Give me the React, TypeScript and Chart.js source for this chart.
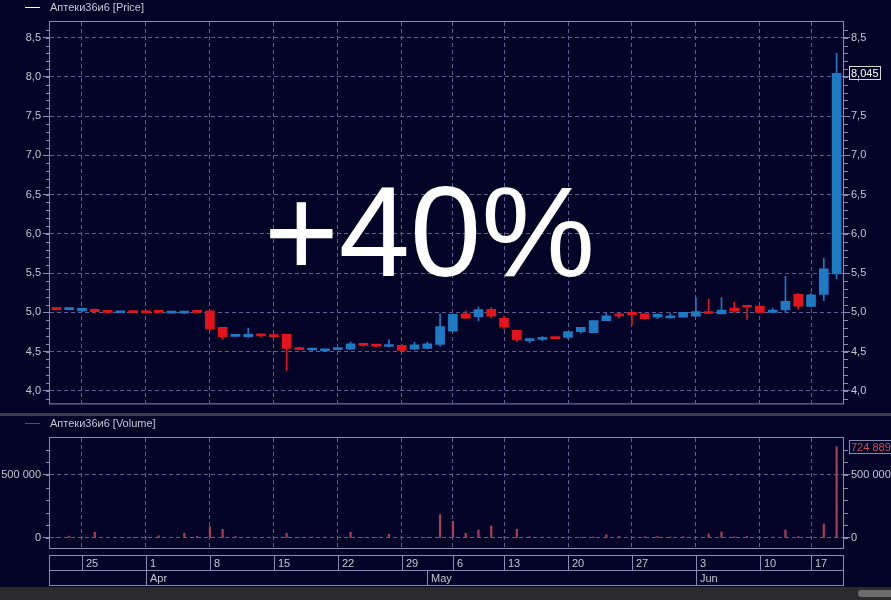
import { useEffect, useRef } from 'react';
import { Chart, registerables } from 'chart.js';

Chart.register(...registerables);

// trading days, Mar 21 – Jun 19
const DATES = [
  '2019-03-21', '2019-03-22', '2019-03-25', '2019-03-26', '2019-03-27', '2019-03-28', '2019-03-29',
  '2019-04-01', '2019-04-02', '2019-04-03', '2019-04-04', '2019-04-05',
  '2019-04-08', '2019-04-09', '2019-04-10', '2019-04-11', '2019-04-12',
  '2019-04-15', '2019-04-16', '2019-04-17', '2019-04-18', '2019-04-19',
  '2019-04-22', '2019-04-23', '2019-04-24', '2019-04-25', '2019-04-26',
  '2019-04-29', '2019-04-30', '2019-05-02', '2019-05-03',
  '2019-05-06', '2019-05-07', '2019-05-08', '2019-05-10',
  '2019-05-13', '2019-05-14', '2019-05-15', '2019-05-16', '2019-05-17',
  '2019-05-20', '2019-05-21', '2019-05-22', '2019-05-23', '2019-05-24',
  '2019-05-27', '2019-05-28', '2019-05-29', '2019-05-30', '2019-05-31',
  '2019-06-03', '2019-06-04', '2019-06-05', '2019-06-06', '2019-06-07',
  '2019-06-10', '2019-06-11', '2019-06-13', '2019-06-14',
  '2019-06-17', '2019-06-18', '2019-06-19',
];

const OPEN = [
  5.04, 5.035, 5.02, 5.04, 5.01, 4.995, 5.0,
  5.0, 5.01, 4.99, 4.99, 5.01,
  5.02, 4.81, 4.695, 4.69, 4.72,
  4.71, 4.72, 4.545, 4.52, 4.51,
  4.525, 4.53, 4.6, 4.585, 4.565,
  4.58, 4.53, 4.54, 4.59,
  4.76, 4.98, 4.945, 5.04,
  4.925, 4.77, 4.64, 4.655, 4.675,
  4.68, 4.755, 4.74, 4.895, 4.96,
  5.0, 4.98, 4.94, 4.93, 4.94,
  4.95, 4.995, 4.98, 5.055, 5.08,
  5.08, 5.0, 5.03, 5.23,
  5.075, 5.23, 5.49,
];
const HIGH = [
  5.045, 5.05, 5.055, 5.045, 5.01, 5.0, 5.0,
  5.005, 5.02, 5.0, 5.0, 5.01,
  5.02, 4.81, 4.7, 4.8, 4.72,
  4.71, 4.72, 4.55, 4.525, 4.53,
  4.535, 4.62, 4.61, 4.59, 4.65,
  4.59, 4.62, 4.62, 4.98,
  4.98, 5.02, 5.07, 5.06,
  4.95, 4.77, 4.67, 4.69, 4.68,
  4.755, 4.81, 4.895, 4.99, 4.99,
  5.01, 4.98, 4.98, 4.99, 5.0,
  5.19, 5.17, 5.19, 5.13, 5.09,
  5.08, 5.055, 5.46, 5.24,
  5.24, 5.69, 8.3,
];
const LOW = [
  5.03, 5.03, 5.01, 5.0, 5.0, 4.995, 4.995,
  4.99, 5.0, 4.985, 4.985, 5.0,
  4.77, 4.66, 4.695, 4.685, 4.69,
  4.69, 4.26, 4.52, 4.515, 4.505,
  4.52, 4.525, 4.565, 4.56, 4.56,
  4.505, 4.525, 4.535, 4.57,
  4.75, 4.92, 4.89, 4.93,
  4.79, 4.63, 4.61, 4.64, 4.665,
  4.665, 4.735, 4.74, 4.895, 4.93,
  4.84, 4.91, 4.92, 4.925, 4.94,
  4.95, 4.985, 4.98, 5.0, 4.91,
  4.995, 5.0, 5.0, 5.04,
  5.065, 5.15, 5.43,
];
const CLOSE = [
  5.035, 5.045, 5.05, 5.01, 5.0, 5.0, 4.998,
  4.995, 5.0, 5.0, 5.0, 5.0,
  4.79, 4.69, 4.7, 4.72, 4.7,
  4.69, 4.54, 4.525, 4.525, 4.525,
  4.53, 4.6, 4.58, 4.57, 4.575,
  4.515, 4.585, 4.6, 4.82,
  4.975, 4.925, 5.035, 4.95,
  4.81, 4.65, 4.65, 4.675, 4.665,
  4.755, 4.81, 4.895, 4.955, 4.955,
  4.97, 4.92, 4.975, 4.945, 5.0,
  5.01, 4.985, 5.03, 5.015, 5.065,
  5.0, 5.03, 5.14, 5.08,
  5.225, 5.555, 8.045,
];
const VOLUME = [
  5000, 15000, 6000, 45000, 5000, 4000, 3000,
  6000, 18000, 5000, 37000, 12000,
  90000, 69000, 12000, 6000, 4000,
  5000, 37000, 5000, 8000, 8000,
  4000, 45000, 4000, 5000, 29000,
  6000, 5000, 6000, 185000,
  132000, 37000, 64000, 95000,
  8000, 69000, 10000, 7000, 5000,
  4000, 6000, 8000, 26000, 12000,
  8000, 10000, 12000, 8000, 10000,
  6000, 32000, 48000, 10000, 12000,
  6000, 8000, 64000, 12000,
  8000, 111000, 724889,
];

const MONTHS = ['Jan', 'Feb', 'Mar', 'Apr', 'May', 'Jun', 'Jul', 'Aug', 'Sep', 'Oct', 'Nov', 'Dec'];

const BG = '#030327';
const UP = '#1f7ac4';
const DOWN = '#e3141b';
const FRAME = '#8a8ab2';
const GRID = '#5e5e92';
const TEXT = '#c6c6d6';
const VOL = '#b03c58';
const FAMILY = '"Liberation Sans", Arial, sans-serif';
const FONT = { family: FAMILY, size: 11 };

const candleColors = OPEN.map((o, i) => (CLOSE[i] >= o ? UP : DOWN));
const mondays = new Set(DATES.map((d, i) => (new Date(d).getUTCDay() === 1 ? i : -1)).filter((i) => i >= 0));
const monthStarts = DATES.map((d, i) => (i > 0 && d.slice(5, 7) !== DATES[i - 1].slice(5, 7) ? i : -1)).filter((i) => i >= 0);

const fmtPrice = (v: number) => (Math.round(v * 10) / 10).toFixed(1).replace('.', ',');
const fmtVol = (v: number) => String(Math.round(v)).replace(/\B(?=(\d{3})+(?!\d))/g, ' ');

const xAxis = {
  type: 'category' as const,
  offset: true,
  afterFit: (s: any) => { s.height = 0; },
  ticks: { display: false, autoSkip: false },
  grid: {
    offset: false,
    drawTicks: false,
    color: (c: any) => (mondays.has(c.index) ? GRID : 'rgba(0,0,0,0)'),
  },
  border: { display: false, dash: [4, 3] },
};

function yAxes(min: number, max: number, step: number, fmt: (v: number) => string) {
  // labelled ticks at whole multiples of step
  const build = (s: any) => {
    const t = [];
    for (let k = Math.ceil(min / step); k * step <= max; k++) t.push({ value: k * step });
    s.ticks = t;
  };
  return {
    y: {
      position: 'left' as const, min, max,
      afterBuildTicks: build,
      afterFit: (s: any) => { s.width = 50; },
      ticks: { color: TEXT, font: FONT, padding: 2, callback: (v: any) => fmt(Number(v)) },
      grid: { color: GRID, tickColor: FRAME, tickLength: 7 },
      border: { display: false, dash: [4, 3] },
    },
    yR: {
      position: 'right' as const, min, max,
      afterBuildTicks: build,
      afterFit: (s: any) => { s.width = 48; },
      ticks: { color: TEXT, font: FONT, padding: 1, callback: (v: any) => fmt(Number(v)) },
      grid: { drawOnChartArea: false, tickColor: FRAME, tickLength: 7 },
      border: { display: false },
    },
  };
}

// frame round the plot area, short minor ticks on both value axes
function framePlugin(minorStep: number) {
  return {
    id: 'frame',
    afterDraw(chart: any) {
      const { ctx, chartArea: a } = chart;
      ctx.save();
      ctx.strokeStyle = FRAME;
      ctx.lineWidth = 1;
      ctx.strokeRect(a.left - 0.5, a.top - 0.5, a.right - a.left + 1, a.bottom - a.top + 1);
      for (const id of ['y', 'yR']) {
        const s = chart.scales[id];
        for (let k = Math.ceil(s.min / minorStep); k * minorStep <= s.max; k++) {
          const y = Math.round(s.getPixelForValue(k * minorStep)) + 0.5;
          ctx.beginPath();
          if (id === 'y') { ctx.moveTo(a.left - 4, y); ctx.lineTo(a.left, y); }
          else { ctx.moveTo(a.right, y); ctx.lineTo(a.right + 5, y); }
          ctx.stroke();
        }
      }
      ctx.restore();
    },
  };
}

// boxed last value on the right axis
function lastValuePlugin(value: number, text: string, color: string, border: string, boxW: number) {
  return {
    id: 'lastValue',
    afterDraw(chart: any) {
      const { ctx, chartArea: a } = chart;
      const y = chart.scales.yR.getPixelForValue(value);
      const x = a.right + 6;
      ctx.save();
      ctx.fillStyle = BG;
      ctx.fillRect(x, Math.round(y - 7), boxW, 14);
      ctx.strokeStyle = border;
      ctx.lineWidth = 1;
      ctx.strokeRect(x + 0.5, Math.round(y - 7) + 0.5, boxW, 13);
      ctx.fillStyle = color;
      ctx.font = `11px ${FAMILY}`;
      ctx.textBaseline = 'middle';
      ctx.fillText(text, x + 2, Math.round(y) + 0.5);
      ctx.restore();
    },
  };
}

// two-row date scale under the volume panel
const datePlugin = {
  id: 'dates',
  afterDraw(chart: any) {
    const { ctx, chartArea: a } = chart;
    const xs = chart.scales.x;
    const top = a.bottom + 7.5;
    const mid = top + 15;
    const bot = mid + 15;
    ctx.save();
    ctx.strokeStyle = FRAME;
    ctx.lineWidth = 1;
    ctx.strokeRect(a.left - 0.5, top, a.right - a.left + 1, bot - top);
    ctx.beginPath();
    ctx.moveTo(a.left - 0.5, mid);
    ctx.lineTo(a.right + 0.5, mid);
    ctx.stroke();
    ctx.fillStyle = TEXT;
    ctx.font = `11px ${FAMILY}`;
    ctx.textBaseline = 'middle';
    mondays.forEach((i) => {
      const px = Math.round(xs.getPixelForValue(i)) + 0.5;
      ctx.beginPath();
      ctx.moveTo(px, top);
      ctx.lineTo(px, mid);
      ctx.stroke();
      ctx.fillText(String(Number(DATES[i].slice(8))), px + 3.5, top + 8);
    });
    monthStarts.forEach((i) => {
      const px = Math.round(xs.getPixelForValue(i)) + 0.5;
      ctx.beginPath();
      ctx.moveTo(px, mid);
      ctx.lineTo(px, bot);
      ctx.stroke();
      ctx.fillText(MONTHS[Number(DATES[i].slice(5, 7)) - 1], px + 3.5, mid + 8);
    });
    ctx.restore();
  },
};

function LegendRow({ top, color, label }: { top: number; color: string; label: string }) {
  return (
    <div style={{ position: 'absolute', left: 0, top, height: 13, width: 400 }}>
      <div style={{ position: 'absolute', left: 25, top: 6, width: 15, height: 1, background: color }} />
      <div style={{ position: 'absolute', left: 50, top: 0, lineHeight: '13px', fontSize: 11, color: TEXT, whiteSpace: 'nowrap' }}>
        {label}
      </div>
    </div>
  );
}

export default function App() {
  const priceRef = useRef<HTMLCanvasElement>(null);
  const volRef = useRef<HTMLCanvasElement>(null);

  useEffect(() => {
    if (!priceRef.current || !volRef.current) return;

    const lastClose = CLOSE[CLOSE.length - 1];
    const price = new Chart(priceRef.current, {
      type: 'bar',
      data: {
        labels: DATES,
        datasets: [
          {
            label: 'body',
            data: OPEN.map((o, i) => [o, CLOSE[i]]) as any,
            backgroundColor: candleColors,
            barThickness: 9,
            minBarLength: 2,
            grouped: false,
          },
          {
            label: 'wick',
            data: LOW.map((l, i) => [l, HIGH[i]]) as any,
            backgroundColor: candleColors,
            barThickness: 1,
            grouped: false,
          },
        ],
      },
      options: {
        responsive: true,
        maintainAspectRatio: false,
        animation: false,
        events: [],
        layout: { padding: { top: 22, bottom: 5, left: 0, right: 0 } },
        plugins: { legend: { display: false }, tooltip: { enabled: false } },
        scales: { x: xAxis, ...yAxes(3.84, 8.7, 0.5, fmtPrice) } as any,
      },
      plugins: [framePlugin(0.1), lastValuePlugin(lastClose, String(lastClose).replace('.', ','), '#ffffff', '#d8d8d8', 31)],
    });

    const lastVol = VOLUME[VOLUME.length - 1];
    const volume = new Chart(volRef.current, {
      type: 'bar',
      data: {
        labels: DATES,
        datasets: [
          {
            label: 'Volume',
            data: VOLUME,
            backgroundColor: VOL,
            barThickness: 1.5,
            grouped: false,
          },
        ],
      },
      options: {
        responsive: true,
        maintainAspectRatio: false,
        animation: false,
        events: [],
        layout: { padding: { top: 22, bottom: 39, left: 0, right: 0 } },
        plugins: { legend: { display: false }, tooltip: { enabled: false } },
        scales: { x: xAxis, ...yAxes(-79370, 793650, 500000, fmtVol) } as any,
      },
      plugins: [framePlugin(100000), lastValuePlugin(lastVol, fmtVol(lastVol), '#d24a5c', FRAME, 48), datePlugin],
    });

    return () => {
      price.destroy();
      volume.destroy();
    };
  }, []);

  return (
    <div style={{ position: 'fixed', left: 0, top: 0, width: 891, height: 600, background: BG, overflow: 'hidden', fontFamily: FAMILY }}>
      <div style={{ position: 'absolute', left: 0, top: 0, width: 891, height: 412 }}>
        <canvas ref={priceRef} />
      </div>
      <div style={{ position: 'absolute', left: 0, top: 412.5, width: 891, height: 3.5, background: '#3e3e46' }} />
      <div style={{ position: 'absolute', left: 0, top: 416, width: 891, height: 171 }}>
        <canvas ref={volRef} />
      </div>
      <div style={{ position: 'absolute', left: 0, top: 587, width: 891, height: 13, background: '#2b2b2e' }} />
      <div style={{ position: 'absolute', left: 858, top: 590, width: 40, height: 7, background: '#6c6c6c', borderRadius: 3 }} />
      <LegendRow top={0.5} color="#ffffff" label="Аптеки36и6 [Price]" />
      <LegendRow top={416.5} color="#9a3048" label="Аптеки36и6 [Volume]" />
      <div style={{ position: 'absolute', left: 264, top: 168, fontSize: 128, lineHeight: '128px', color: '#ffffff', whiteSpace: 'nowrap' }}>
        +40%
      </div>
    </div>
  );
}
